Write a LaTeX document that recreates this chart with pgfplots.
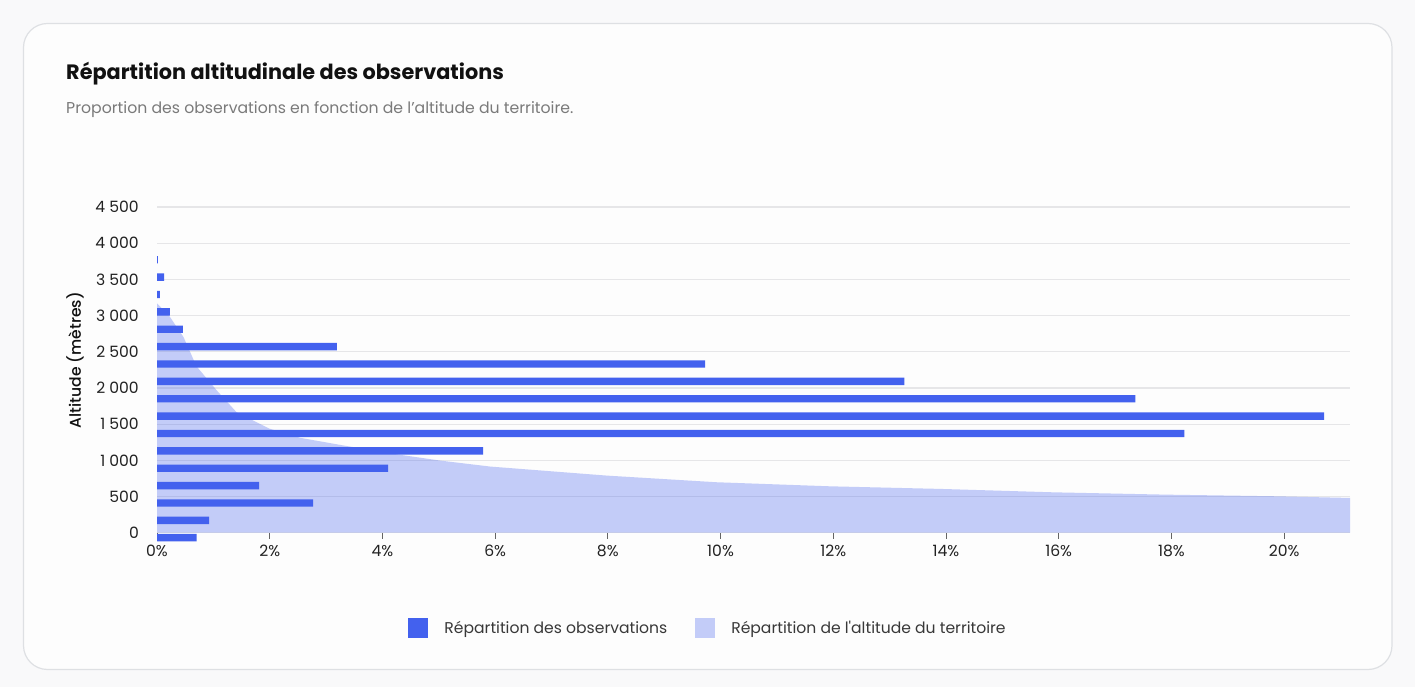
\documentclass[border=0pt]{standalone}
\usepackage{pgfplots}
\pgfplotsset{compat=1.18}
\usepackage{fontspec}
\setmainfont{Poppins}
\newfontfamily\medfont{Poppins Medium}

\definecolor{pagebg}{HTML}{F9F9FA}
\definecolor{cardbg}{HTML}{FDFDFD}
\definecolor{cardline}{HTML}{DEE0E3}
\definecolor{obsblue}{HTML}{4361EE}
\definecolor{gridcol}{HTML}{E6E6E8}
\definecolor{titlecol}{HTML}{111111}
\definecolor{subcol}{HTML}{7A7A7A}
\definecolor{tickcol}{HTML}{222222}

\begin{document}
\begin{tikzpicture}[x=1pt,y=1pt]
% card background
\fill[pagebg] (0,0) rectangle (1415,687);
\draw[cardline, fill=cardbg, line width=1.2pt, rounded corners=24pt] (23.5,17.5) rectangle (1392,663.5);

\node[anchor=base west, inner sep=0pt, text=titlecol,
      font=\fontsize{20.8}{24}\selectfont\bfseries] at (66,607) {Répartition altitudinale des observations};
\node[anchor=base west, inner sep=0pt, text=subcol,
      font=\fontsize{15.7}{18}\selectfont] at (66,573) {Proportion des observations en fonction de l’altitude du territoire.};

\begin{axis}[
    at={(157pt,154.3pt)}, anchor=south west,
    scale only axis,
    width=1193pt, height=325.7pt,
    xmin=0, xmax=21.17,
    ymin=0, ymax=4500,
    clip=false,
    axis x line*=bottom,
    axis y line*=left,
    x axis line style={draw=gridcol, line width=1pt},
    y axis line style={draw=none},
    xtick={0,2,...,20},
    xticklabels={0\%,2\%,4\%,6\%,8\%,10\%,12\%,14\%,16\%,18\%,20\%},
    ytick={0,500,...,4500},
    yticklabels={0,500,1~000,1~500,2~000,2~500,3~000,3~500,4~000,4~500},
    tick align=outside,
    major tick length=6pt,
    xtick style={draw=tickcol!70, line width=0.9pt},
    ytick style={draw=none},
    ymajorgrids,
    grid style={draw=gridcol, line width=1.2pt},
    ticklabel style={font=\fontsize{15.6}{18}\selectfont, text=tickcol},
    y tick label style={anchor=east, inner sep=0pt, xshift=-12pt},
    x tick label style={anchor=north, inner sep=0pt, yshift=-6pt},
    ylabel={Altitude (mètres)},
    ylabel style={at={(axis description cs:-0.0687,0.53)}, anchor=center,
                  font=\fontsize{15.6}{18}\selectfont\medfont, text=titlecol},
    legend columns=2,
    reverse legend,
    legend cell align=left,
    legend style={draw=none, fill=none, at={(0.4619,-0.2926)}, anchor=center,
                  font=\fontsize{15.6}{18}\selectfont, text=tickcol!90,
                  /tikz/every odd column/.append style={column sep=14pt},
                  /tikz/every even column/.append style={column sep=26pt}},
]

% territory altitude distribution (area)
\addplot[draw=none, fill=obsblue, fill opacity=0.31,
         legend image code/.code={\fill[obsblue, fill opacity=0.31] (0pt,-10pt) rectangle (20pt,10pt);}]
  coordinates {
  (0,3170) (0.23,2981) (0.47,2704) (0.70,2300) (1.06,1966) (1.41,1666)
  (2.00,1436) (2.54,1311) (3.31,1205) (4.19,1090) (5.02,997) (5.91,914)
  (7.98,789) (9.93,697) (11.94,641) (13.90,605) (15.90,558) (17.89,526)
  (19.87,503) (21.17,480) (21.17,0) (0,0)
  };

% observations
\addplot[xbar, bar width=7.4pt, bar shift=0pt, fill=obsblue, draw=none,
         legend image code/.code={\fill[obsblue] (0pt,-10pt) rectangle (20pt,10pt);}]
  coordinates {
  (0.704,-69) (0.923,171) (2.77,411) (1.81,651) (4.10,891) (5.785,1131)
  (18.23,1371) (20.71,1611) (17.36,1851) (13.26,2091) (9.725,2331)
  (3.19,2571) (0.46,2811) (0.23,3051) (0.05,3291) (0.125,3531) (0.015,3771)
  };

\legend{Répartition de l\textquotesingle altitude du territoire, Répartition des observations}
\end{axis}
\end{tikzpicture}
\end{document}
